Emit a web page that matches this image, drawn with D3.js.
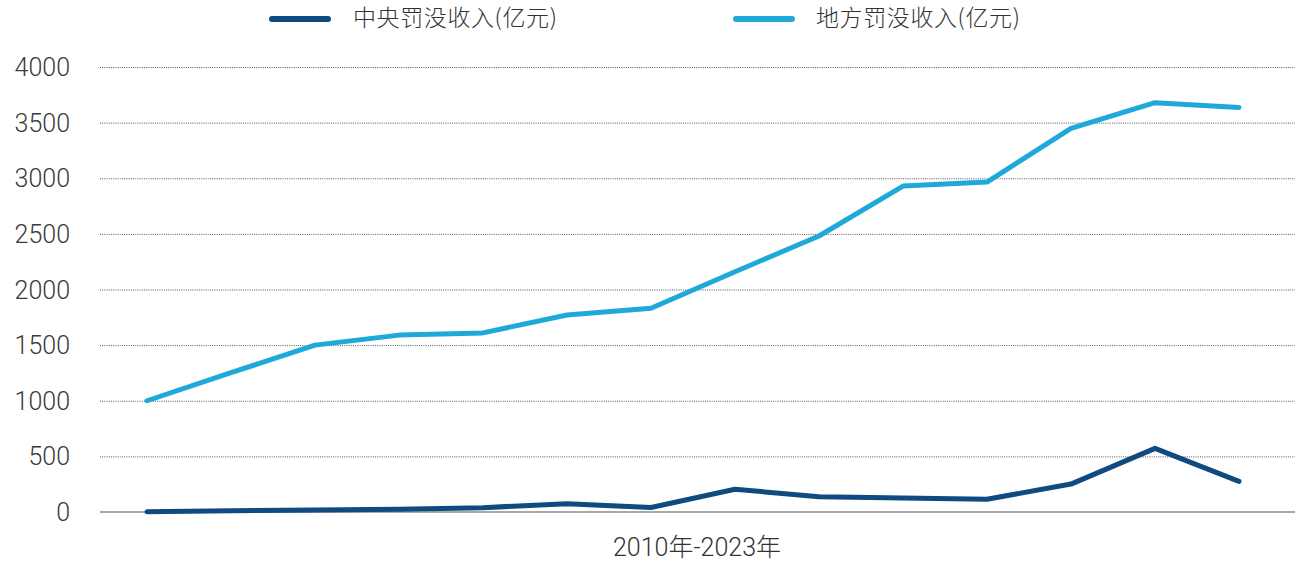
<!DOCTYPE html>
<html>
<head>
<meta charset="utf-8">
<script src="https://cdn.jsdelivr.net/npm/d3@7/dist/d3.min.js"></script>
<style>
  html, body { margin: 0; padding: 0; background: #fff; }
  svg { display: block; }
  .num { font-family: "Roboto", "Noto Sans CJK SC", sans-serif; font-weight: 300; }
  .cjk { font-family: "Noto Sans CJK SC", sans-serif; font-weight: 300; }
</style>
</head>
<body>
<svg id="chart" width="1313" height="564"></svg>
<script>
const years = [2010, 2011, 2012, 2013, 2014, 2015, 2016, 2017, 2018, 2019, 2020, 2021, 2022, 2023];
const centralValues = [3, 12, 18, 24, 39, 75, 40, 204, 138, 126, 115, 251, 572, 275];
const localValues = [1000, 1252, 1500, 1590, 1610, 1771, 1831, 2160, 2481, 2930, 2966, 3449, 3679, 3637];
const yTicks = [0, 500, 1000, 1500, 2000, 2500, 3000, 3500, 4000];
const seriesNames = ["中央罚没收入(亿元)", "地方罚没收入(亿元)"];
const xTitle = "2010年-2023年";

const colors = ["#0f4a80", "#1fa9d8"];

const svg = d3.select("#chart");
const x = d3.scaleLinear().domain([2010, 2023]).range([147, 1239]);
const y = d3.scaleLinear().domain([0, 4000]).range([512, 67]);
const gridLeft = 100, gridRight = 1295;

// gridlines
const grid = svg.append("g").attr("transform", `translate(${gridLeft},0)`)
  .call(d3.axisLeft(y).tickValues(yTicks.filter(d => d > 0)).tickSize(-(gridRight - gridLeft)).tickFormat(""));
grid.select(".domain").remove();
grid.selectAll("line").attr("stroke", "#555").attr("stroke-width", 1).attr("stroke-dasharray", "1,1.2");

// baseline
svg.append("line").attr("x1", gridLeft).attr("x2", gridRight)
  .attr("y1", y(0)).attr("y2", y(0)).attr("stroke", "#555").attr("stroke-width", 1.2);

// y labels
const yAxis = svg.append("g").attr("transform", "translate(70,0)")
  .call(d3.axisLeft(y).tickValues(yTicks).tickSize(0).tickPadding(0).tickFormat(d3.format("d")));
yAxis.select(".domain").remove();
yAxis.selectAll("text").attr("class", "num").attr("font-size", 25).attr("fill", "#3a3a3a")
  .attr("dy", "0.34em").attr("font-family", null);

// lines
const line = d3.line().x((d, i) => x(years[i])).y(d => y(d));
[centralValues, localValues].forEach((vals, k) => {
  svg.append("path").datum(vals).attr("d", line).attr("fill", "none")
    .attr("stroke", colors[k]).attr("stroke-width", 5)
    .attr("stroke-linejoin", "round").attr("stroke-linecap", "round");
});

// legend
const legendPos = [{lx: 272, tx: 353}, {lx: 736, tx: 816}];
seriesNames.forEach((name, k) => {
  const p = legendPos[k];
  svg.append("line").attr("x1", p.lx).attr("x2", p.lx + 56).attr("y1", 19).attr("y2", 19)
    .attr("stroke", colors[k]).attr("stroke-width", 6).attr("stroke-linecap", "round");
  svg.append("text").attr("class", "cjk").attr("x", p.tx).attr("y", 18).attr("dy", "0.36em")
    .attr("font-size", 23).attr("letter-spacing", 0.6).attr("fill", "#333").text(name);
});

// x title
svg.append("text").attr("class", "num").attr("x", 697).attr("y", 547).attr("dy", "0.36em")
  .attr("text-anchor", "middle").attr("font-size", 25).attr("fill", "#333").text(xTitle);
</script>
</body>
</html>
